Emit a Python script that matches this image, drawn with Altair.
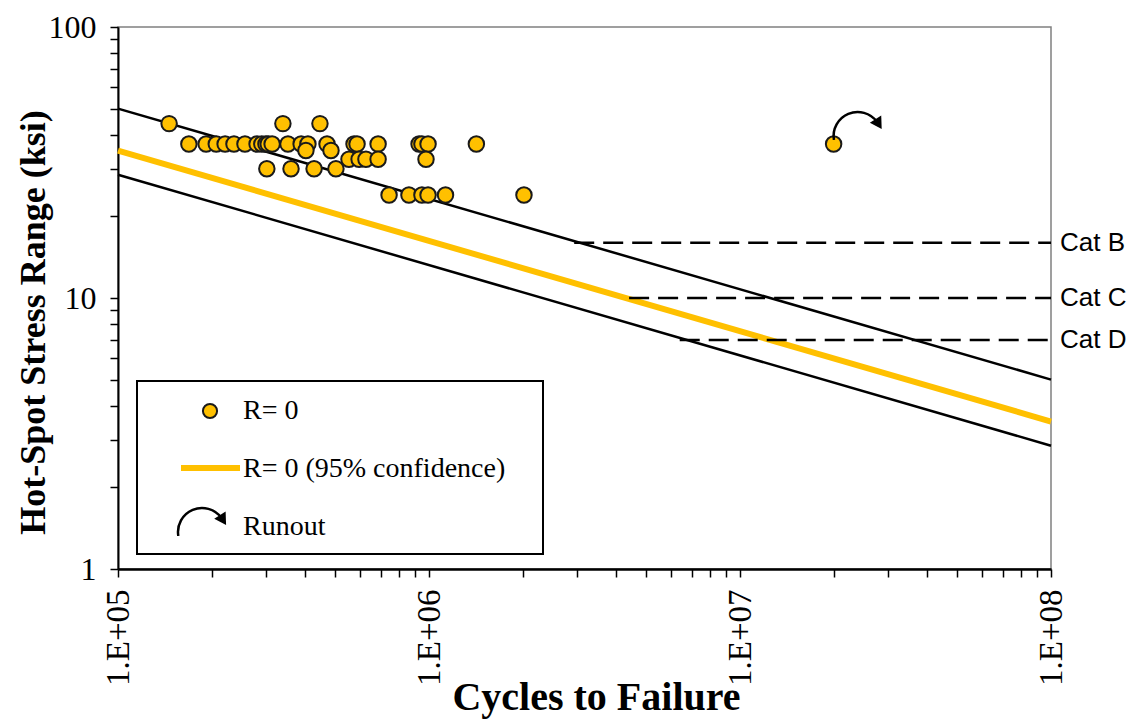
import altair as alt
import pandas as pd

# ---------------- data ----------------
# test points: cycles to failure and hot-spot stress range (ksi)
pt_cycles = [1.46e5, 3.39e5, 4.46e5,
             1.69e5, 1.92e5, 2.07e5, 2.21e5, 2.36e5, 2.56e5, 2.80e5, 2.90e5, 2.99e5,
             3.04e5, 3.13e5, 3.52e5, 3.88e5, 4.08e5, 4.70e5, 5.74e5, 5.87e5, 6.86e5,
             9.29e5, 9.49e5, 9.93e5, 1.42e6,
             4.02e5, 4.84e5,
             5.53e5, 5.96e5, 6.27e5, 6.86e5, 9.78e5,
             3.01e5, 3.60e5, 4.27e5, 5.02e5,
             7.44e5, 8.62e5, 9.49e5, 9.93e5, 1.13e6, 2.02e6]
pt_stress = [44, 44, 44,
             37, 37, 37, 37, 37, 37, 37, 37, 37,
             37, 37, 37, 37, 37, 37, 37, 37, 37,
             37, 37, 37, 37,
             35, 35,
             32.5, 32.5, 32.5, 32.5, 32.5,
             30, 30, 30, 30,
             24, 24, 24, 24, 24, 24]

# runout specimen
runout_cycles = [2.0e7]
runout_stress = [37]

# S-N curves (endpoints at 1E+05 and 1E+08 cycles)
curve_names = ["upper", "upper", "lower", "lower"]
curve_cycles = [1e5, 1e8, 1e5, 1e8]
curve_stress = [50, 5, 28.5, 2.85]

conf_cycles = [1e5, 1e8]
conf_stress = [35, 3.5]

# AASHTO category constant-amplitude thresholds
cat_labels = ["Cat B", "Cat C", "Cat D"]
cat_stress = [16, 10, 7]
cat_start = [2.93e6, 4.4e6, 6.4e6]
cat_end = [1e8, 1e8, 1e8]

x_ticks = [k * d for d in (1e5, 1e6, 1e7) for k in range(1, 10)] + [1e8]
y_ticks = [k * d for d in (1, 10) for k in range(1, 10)] + [100]

legend_labels = ["R= 0", "R= 0 (95% confidence)", "Runout"]

# ---------------- frames ----------------
pts = pd.DataFrame({"N": pt_cycles, "S": pt_stress})
run = pd.DataFrame({"N": runout_cycles, "S": runout_stress})
curves = pd.DataFrame({"curve": curve_names, "N": curve_cycles, "S": curve_stress})
conf = pd.DataFrame({"N": conf_cycles, "S": conf_stress})
cats = pd.DataFrame({"label": cat_labels, "S": cat_stress, "N0": cat_start, "N1": cat_end})
one = pd.DataFrame({"a": [0]})

SERIF = "Liberation Serif"
SANS = "Liberation Sans"
GOLD = "#FFC000"
EDGE = "#1a1a1a"

xscale = alt.Scale(type="log", domain=[1e5, 1e8], nice=False)
yscale = alt.Scale(type="log", domain=[1, 100], nice=False)

major = "abs(log(datum.value)/LN10 - round(log(datum.value)/LN10)) < 1e-6"
xaxis = alt.Axis(
    values=x_ticks,
    labelExpr=f"({major}) ? '1.E+0' + round(log(datum.value)/LN10) : ''",
    labelAngle=270, labelFont=SERIF, labelFontSize=33, labelColor="black",
    labelPadding=12, labelOverlap=False, labelFlush=False,
    tickSize=8, tickColor="black", tickWidth=1.5,
    domainColor="black", domainWidth=2.5, grid=False,
    title="Cycles to Failure", titleFont=SERIF, titleFontSize=40,
    titleFontWeight="bold", titleColor="black",
    titleX=478, titleY=140, titleAlign="center", titleBaseline="alphabetic",
)
yaxis = alt.Axis(
    values=y_ticks,
    labelExpr=f"({major}) ? format(datum.value, 'd') : ''",
    labelFont=SERIF, labelFontSize=32, labelColor="black",
    labelPadding=14, labelOverlap=False, labelFlush=False,
    tickSize=8, tickColor="black", tickWidth=1.5,
    domainColor="black", domainWidth=2, grid=False,
    title="Hot-Spot Stress Range (ksi)", titleFont=SERIF, titleFontSize=36,
    titleFontWeight="bold", titleColor="black", titleAngle=270,
    titleX=-74, titleY=295, titleAlign="center", titleBaseline="alphabetic",
)

X = lambda f: alt.X(f"{f}:Q", scale=xscale, axis=xaxis)
Y = lambda f: alt.Y(f"{f}:Q", scale=yscale, axis=yaxis)

black_lines = alt.Chart(curves).mark_line(color="black", strokeWidth=2.5).encode(
    x=X("N"), y=Y("S"), detail="curve:N")
gold_line = alt.Chart(conf).mark_line(color=GOLD, strokeWidth=6).encode(
    x=X("N"), y=Y("S"))
cat_rules = alt.Chart(cats).mark_rule(color="black", strokeWidth=2.5, strokeDash=[20, 9]).encode(
    x=X("N0"), x2="N1:Q", y=Y("S"))
cat_text = alt.Chart(cats).mark_text(align="left", baseline="middle", dx=9,
                                     font=SANS, fontSize=26, color="black").encode(
    x=X("N1"), y=Y("S"), text="label:N")
points = alt.Chart(pts).mark_circle(color=GOLD, stroke=EDGE, strokeWidth=2,
                                    size=240, opacity=1).encode(x=X("N"), y=Y("S"))
run_pt = alt.Chart(run).mark_circle(color=GOLD, stroke=EDGE, strokeWidth=2,
                                    size=240, opacity=1).encode(x=X("N"), y=Y("S"))

# curved runout arrow: arc + arrow head, placed relative to the runout point
ARC = dict(radius=24, radius2=24, theta=4.55, theta2=7.22,
           stroke="black", strokeWidth=2.5, fill="white", fillOpacity=0)
HEAD = dict(shape="triangle-right", angle=58, size=180, filled=True,
            color="black", opacity=1)
run_arc = alt.Chart(run).mark_arc(xOffset=24, yOffset=-8, **ARC).encode(
    x=X("N"), y=Y("S"))
run_head = alt.Chart(run).mark_point(xOffset=45, yOffset=-20, **HEAD).encode(
    x=X("N"), y=Y("S"))

# ---------------- legend (drawn inside the plot) ----------------
leg_box = alt.Chart(one).mark_rect(fill="white", stroke="black", strokeWidth=2).encode(
    x=alt.value(19), x2=alt.value(425), y=alt.value(354), y2=alt.value(527))
leg_circle = alt.Chart(one).mark_circle(color=GOLD, stroke=EDGE, strokeWidth=2,
                                        size=200, opacity=1).encode(
    x=alt.value(92), y=alt.value(384))
leg_line = alt.Chart(one).mark_rule(color=GOLD, strokeWidth=6).encode(
    x=alt.value(63), x2=alt.value(122), y=alt.value(441))
leg_arc = alt.Chart(one).mark_arc(**ARC).encode(x=alt.value(84), y=alt.value(505))
leg_head = alt.Chart(one).mark_point(**HEAD).encode(x=alt.value(105), y=alt.value(493))
leg_texts = [
    alt.Chart(one).mark_text(text=t, align="left", baseline="alphabetic", font=SERIF,
                             fontSize=28, color="black").encode(
        x=alt.value(125), y=alt.value(yy))
    for t, yy in zip(legend_labels, [392, 450, 508])
]

chart = alt.layer(
    black_lines, gold_line, cat_rules, cat_text, points, run_pt, run_arc, run_head,
    leg_box, leg_circle, leg_line, leg_arc, leg_head, *leg_texts,
).properties(
    width=933, height=542,
    autosize=alt.AutoSizeParams(type="none"),
    padding={"left": 110, "top": 19, "right": 76, "bottom": 152},
    background="white",
).configure_view(stroke="#808080", strokeWidth=1.5)

chart.save("out.html", embed_options={"renderer": "svg", "actions": False})
